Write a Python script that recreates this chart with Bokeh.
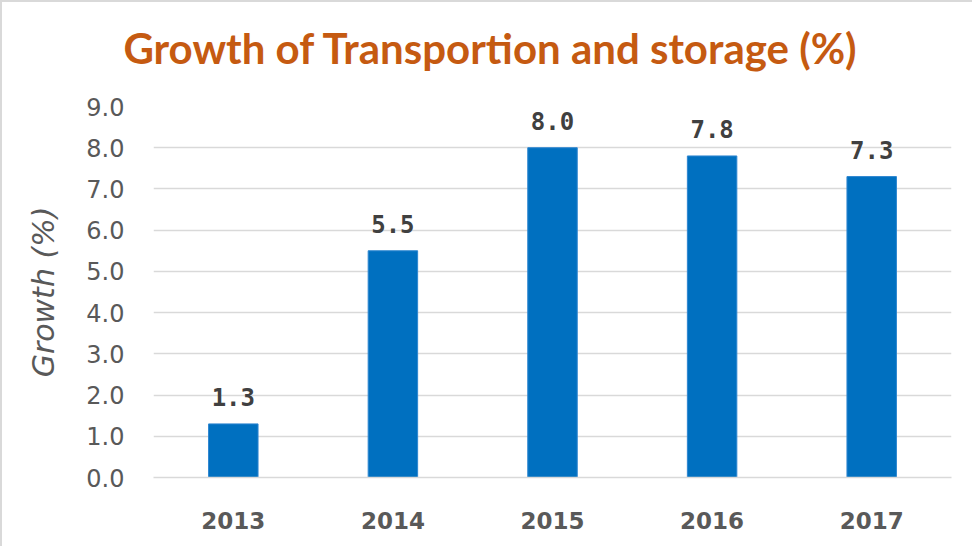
from bokeh.plotting import figure
from bokeh.layouts import column
from bokeh.models import ColumnDataSource, Range1d, FixedTicker, Div
from bokeh.core.properties import value
from bokeh.embed import file_html
from bokeh.resources import INLINE

years = ["2013", "2014", "2015", "2016", "2017"]
growth = [1.3, 5.5, 8.0, 7.8, 7.3]
labels = ["1.3", "5.5", "8.0", "7.8", "7.3"]
yticks = [0, 1, 2, 3, 4, 5, 6, 7, 8, 9]
title_text = "Growth of Transportion and storage (%)"

# ---- title strip ----
title_html = (
    '<div style="padding-top:21px;width:976px;text-align:center;'
    'font-family:Lato;font-weight:bold;font-size:42px;line-height:50px;'
    'color:#C55A11;white-space:nowrap;">' + title_text + '</div>'
)
tdiv = Div(text=title_html, width=970, height=80, margin=0)

# ---- main chart ----
src = ColumnDataSource(dict(x=years, top=growth, lab=labels))

p = figure(x_range=years, y_range=Range1d(0, 9), width=970, height=464,
           output_backend="svg", toolbar_location=None,
           min_border_left=151, min_border_right=21, min_border_top=24,
           min_border_bottom=69, background_fill_color="white",
           border_fill_color="white", outline_line_color=None)
p.x_range.range_padding = 0

p.vbar(x="x", top="top", width=0.31, source=src, fill_color="#0070C0",
       line_color="#2E86D0", line_width=1)
p.text(x="x", y="top", text="lab", source=src, text_align="center",
       text_baseline="alphabetic", y_offset=-27, text_color="#404040",
       text_font=value("DejaVu Sans Mono"), text_font_style="bold",
       text_font_size="24px")

p.yaxis.ticker = FixedTicker(ticks=yticks)
p.yaxis.major_label_overrides = {v: f"{v:.1f}" for v in yticks}
p.yaxis.major_label_text_font = "DejaVu Sans"
p.yaxis.major_label_text_font_size = "24px"
p.yaxis.major_label_text_color = "#595959"
p.yaxis.major_label_standoff = 23
p.yaxis.axis_label = "Growth (%)"
p.yaxis.axis_label_text_font = "DejaVu Sans"
p.yaxis.axis_label_text_font_style = "italic"
p.yaxis.axis_label_text_font_size = "30px"
p.yaxis.axis_label_text_color = "#595959"
p.yaxis.axis_label_standoff = 22
p.yaxis.axis_line_color = None
p.yaxis.major_tick_line_color = None
p.yaxis.minor_tick_line_color = None

p.xaxis.major_label_text_font = "DejaVu Sans"
p.xaxis.major_label_text_font_style = "bold"
p.xaxis.major_label_text_font_size = "23px"
p.xaxis.major_label_text_color = "#595959"
p.xaxis.major_label_standoff = 28
p.xaxis.axis_line_color = "#d9d9d9"
p.xaxis.axis_line_width = 1.5
p.xaxis.major_tick_line_color = None

p.xgrid.grid_line_color = None
p.ygrid.grid_line_color = "#d9d9d9"
p.ygrid.grid_line_width = 1.5

layout = column(tdiv, p, spacing=0,
                styles={"border-left": "2px solid #d9d9d9",
                        "border-top": "2px solid #d9d9d9",
                        "background-color": "white"})

open("out.html", "w").write(file_html(layout, INLINE))
